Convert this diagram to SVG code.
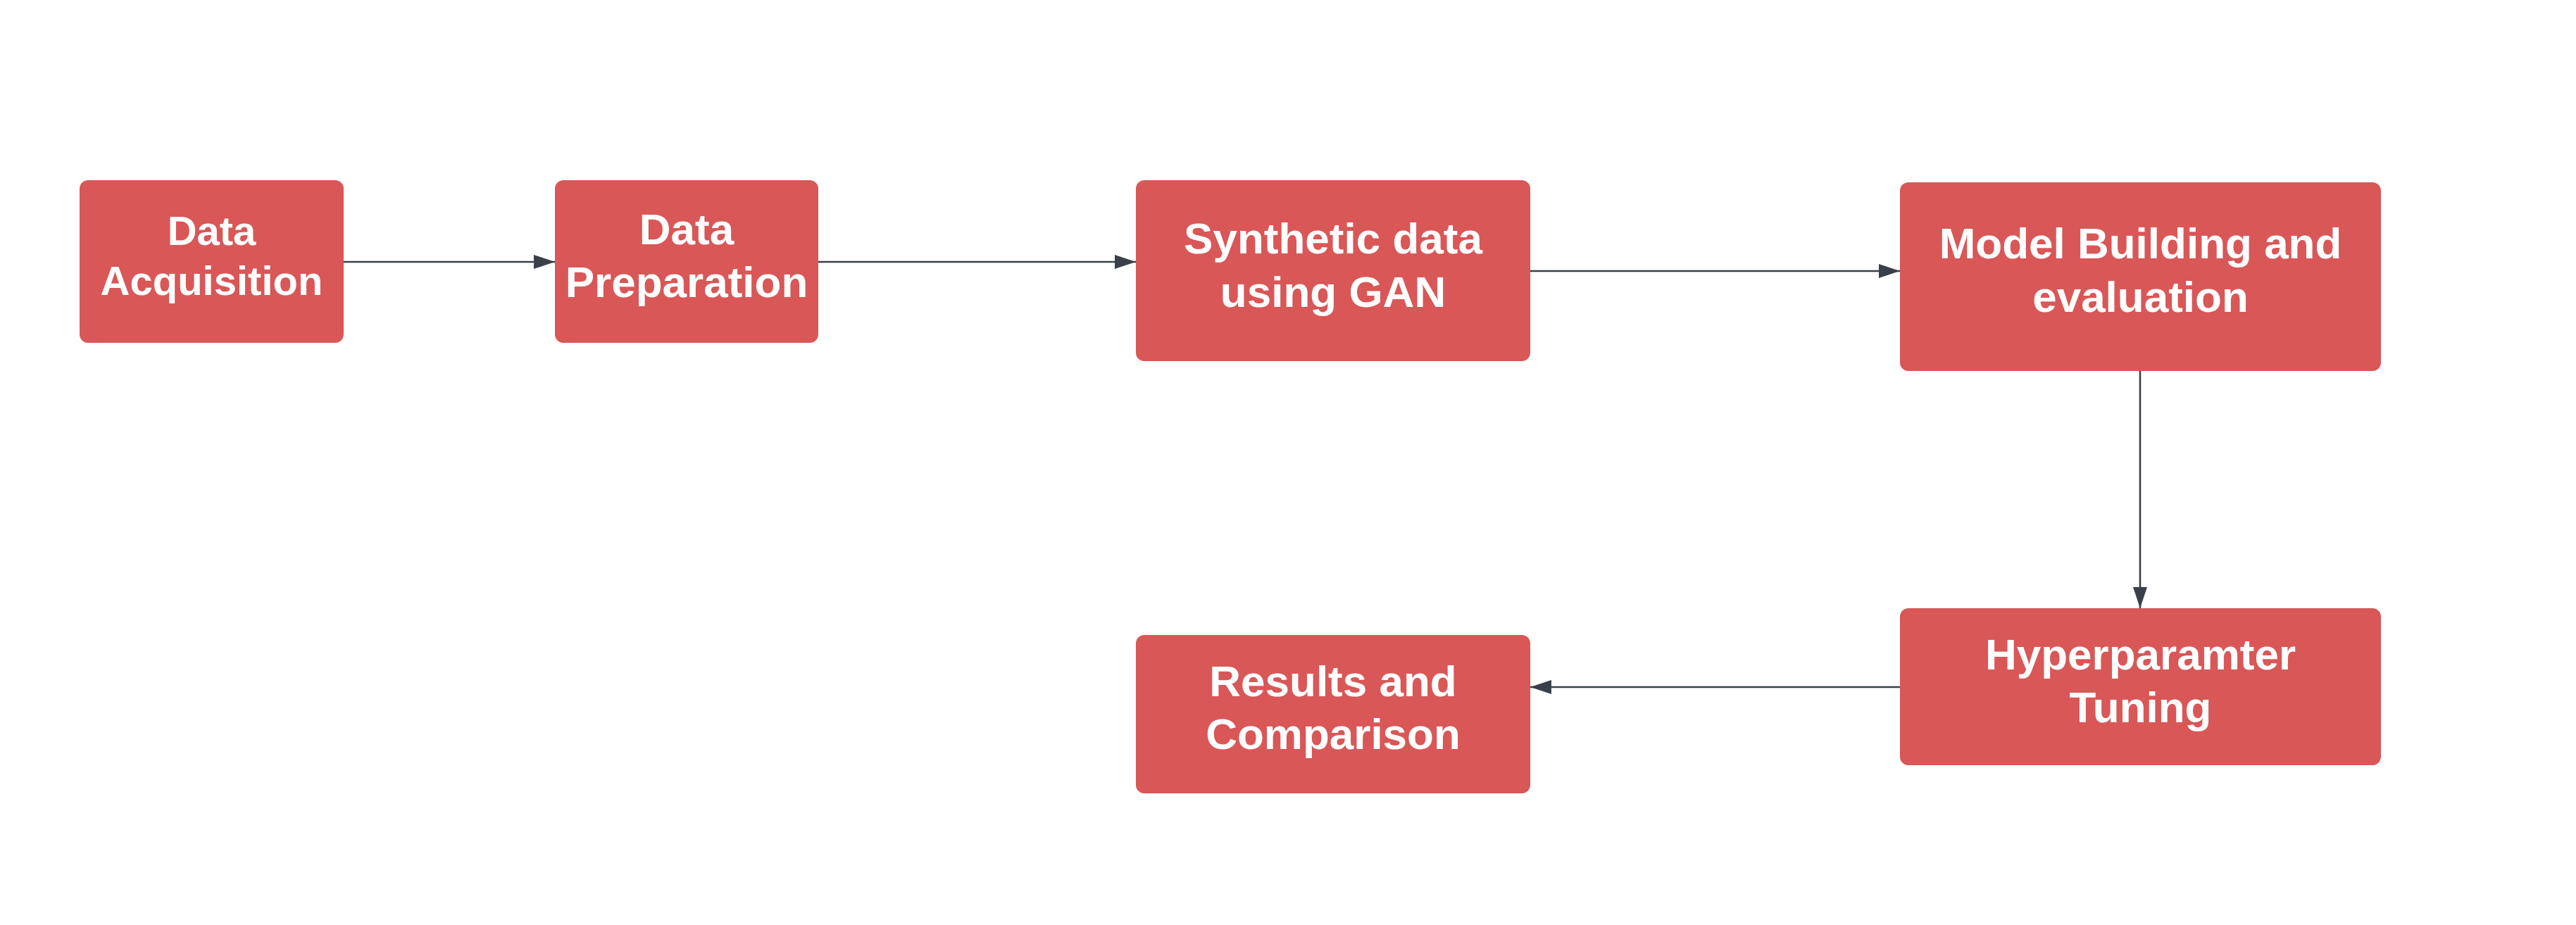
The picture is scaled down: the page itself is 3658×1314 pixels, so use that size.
<svg xmlns="http://www.w3.org/2000/svg" width="3658" height="1314" viewBox="0 0 3658 1314">
<style>
.box{fill:#d95757;}
.t{font-family:"Liberation Sans",Arial,sans-serif;font-weight:bold;fill:#ffffff;text-anchor:middle;font-size:62px;}
.s{font-size:58px;}
.c{stroke:#3a4049;stroke-width:2.6;fill:none;}
</style>
<defs>
<marker id="ah" viewBox="0 0 30 20" refX="30" refY="10" markerWidth="30" markerHeight="20" markerUnits="userSpaceOnUse" orient="auto">
<path d="M0,0 L30,10 L0,20 Z" fill="#3a4049"/>
</marker>
</defs>
<rect width="3658" height="1314" fill="#ffffff"/>
<g id="connectors">
<line class="c" x1="488" y1="372" x2="788" y2="372" marker-end="url(#ah)"/>
<line class="c" x1="1162" y1="372" x2="1613" y2="372" marker-end="url(#ah)"/>
<line class="c" x1="2173" y1="385" x2="2698" y2="385" marker-end="url(#ah)"/>
<line class="c" x1="3039" y1="527" x2="3039" y2="864" marker-end="url(#ah)"/>
<line class="c" x1="2698" y1="976" x2="2173" y2="976" marker-end="url(#ah)"/>
</g>
<g id="node-acquisition">
<rect class="box" x="113" y="256" width="375" height="231" rx="12"/>
<text class="t s" x="300.5" y="348">Data</text>
<text class="t s" x="300.5" y="419">Acquisition</text>
</g>
<g id="node-preparation">
<rect class="box" x="788" y="256" width="374" height="231" rx="12"/>
<text class="t" x="975" y="347">Data</text>
<text class="t" x="975" y="422">Preparation</text>
</g>
<g id="node-synthetic">
<rect class="box" x="1613" y="256" width="560" height="257" rx="12"/>
<text class="t" x="1893" y="360">Synthetic data</text>
<text class="t" x="1893" y="436">using GAN</text>
</g>
<g id="node-model">
<rect class="box" x="2698" y="259" width="683" height="268" rx="12"/>
<text class="t" x="3039.5" y="367">Model Building and</text>
<text class="t" x="3039.5" y="443">evaluation</text>
</g>
<g id="node-hyper">
<rect class="box" x="2698" y="864" width="683" height="223" rx="12"/>
<text class="t" x="3039.5" y="951">Hyperparamter</text>
<text class="t" x="3039.5" y="1026">Tuning</text>
</g>
<g id="node-results">
<rect class="box" x="1613" y="902" width="560" height="225" rx="12"/>
<text class="t" x="1893" y="989">Results and</text>
<text class="t" x="1893" y="1064">Comparison</text>
</g>
</svg>
